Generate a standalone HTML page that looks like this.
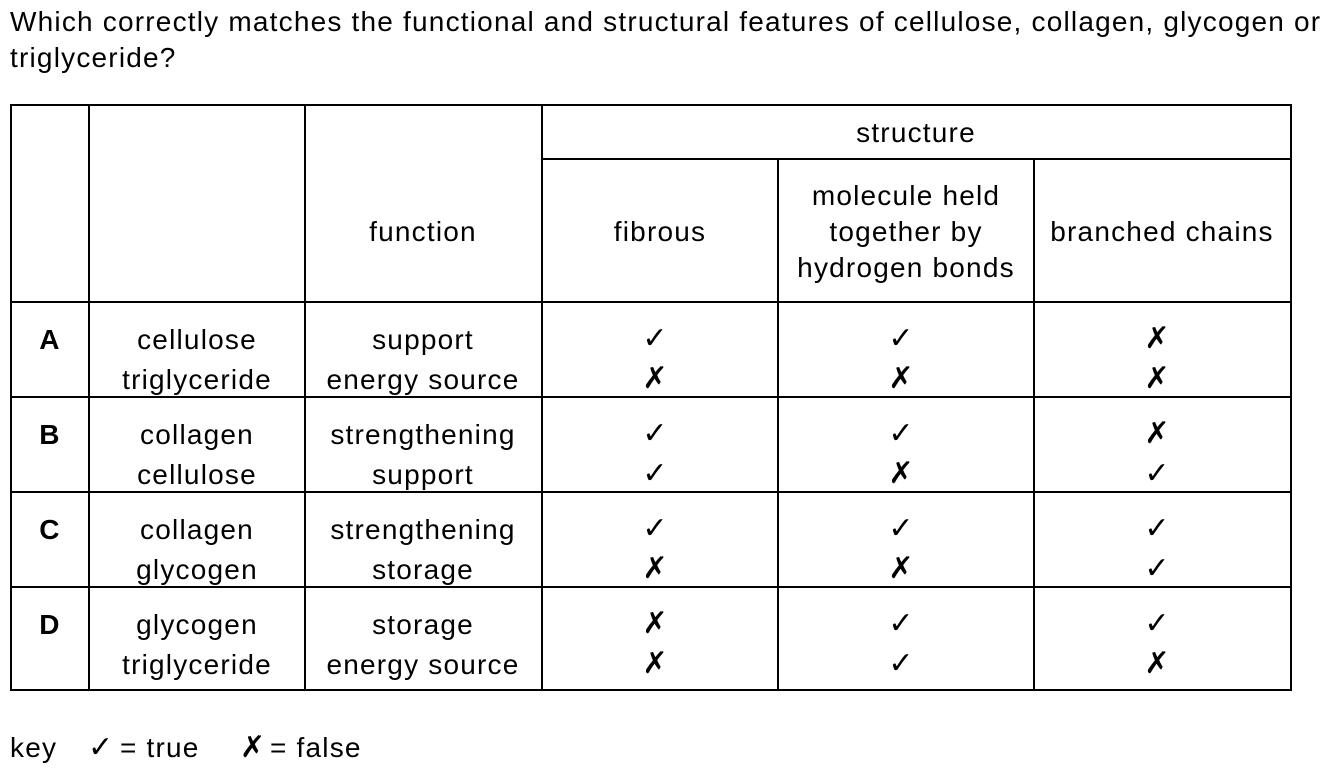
<!DOCTYPE html>
<html><head><meta charset="utf-8"><style>
html,body{margin:0;padding:0;background:#fff;}
svg{display:block;}
text{font-family:"Liberation Sans",Arial,sans-serif;font-size:28px;letter-spacing:1.2px;fill:#000;}
.m{font-family:"DejaVu Sans",sans-serif;font-size:30px;letter-spacing:0;}
</style></head><body>
<svg width="1338" height="769" viewBox="0 0 1338 769">
<text x="10" y="31">Which correctly matches the functional and structural features of cellulose, collagen, glycogen or</text>
<text x="10" y="67">triglyceride?</text>
<g stroke="#000" stroke-width="2" fill="none">
<rect x="11" y="105" width="1280" height="585"/>
<line x1="89" y1="105" x2="89" y2="690"/>
<line x1="305" y1="105" x2="305" y2="690"/>
<line x1="542" y1="105" x2="542" y2="690"/>
<line x1="778" y1="159" x2="778" y2="690"/>
<line x1="1034" y1="159" x2="1034" y2="690"/>
<line x1="542" y1="159" x2="1291" y2="159"/>
<line x1="11" y1="302" x2="1291" y2="302"/>
<line x1="11" y1="397" x2="1291" y2="397"/>
<line x1="11" y1="492" x2="1291" y2="492"/>
<line x1="11" y1="587" x2="1291" y2="587"/>
</g>
<g text-anchor="middle">
<text x="916" y="142">structure</text>
<text x="423" y="241">function</text>
<text x="660" y="241">fibrous</text>
<text x="906" y="205">molecule held</text>
<text x="906" y="241">together by</text>
<text x="906" y="277">hydrogen bonds</text>
<text x="1162" y="241">branched chains</text>
</g>
<g id="rows" text-anchor="middle"></g>
<text x="10" y="757">key</text>
<text x="88" y="757" class="m">✓</text>
<text x="120" y="757">= true</text>
<text x="240" y="757" class="m">✗</text>
<text x="270" y="757">= false</text>
</svg>
<script>
const letters=["A","B","C","D"];
const mol=[["cellulose","triglyceride"],["collagen","cellulose"],["collagen","glycogen"],["glycogen","triglyceride"]];
const func=[["support","energy source"],["strengthening","support"],["strengthening","storage"],["storage","energy source"]];
const marks=[[[1,1,0],[0,0,0]],[[1,1,0],[1,0,1]],[[1,1,1],[0,0,1]],[[0,1,1],[0,1,0]]];
const rowTop=[302,397,492,587];
const g=document.getElementById('rows');
const NS="http://www.w3.org/2000/svg";
function t(x,y,s,cls,bold){const e=document.createElementNS(NS,'text');e.setAttribute('x',x);e.setAttribute('y',y);if(cls)e.setAttribute('class',cls);if(bold)e.setAttribute('font-weight','bold');e.textContent=s;g.appendChild(e);return e;}
const mx=[655,901,1157];
letters.forEach((L,i)=>{
 const y0=rowTop[i]+47,y1=rowTop[i]+87;
 const a=t(50,y0,L,null,true);
 
 
 for(let k=0;k<2;k++){
  const y=k?y1:y0;
  const m=t(197,y,mol[i][k]);
  
  
  const f=t(423,y,func[i][k]);
  
  
  for(let c=0;c<3;c++){
   const e=t(mx[c],y-1,marks[i][k][c]?'✓':'✗','m');
   
   
  }
 }
});
</script>
</body></html>
